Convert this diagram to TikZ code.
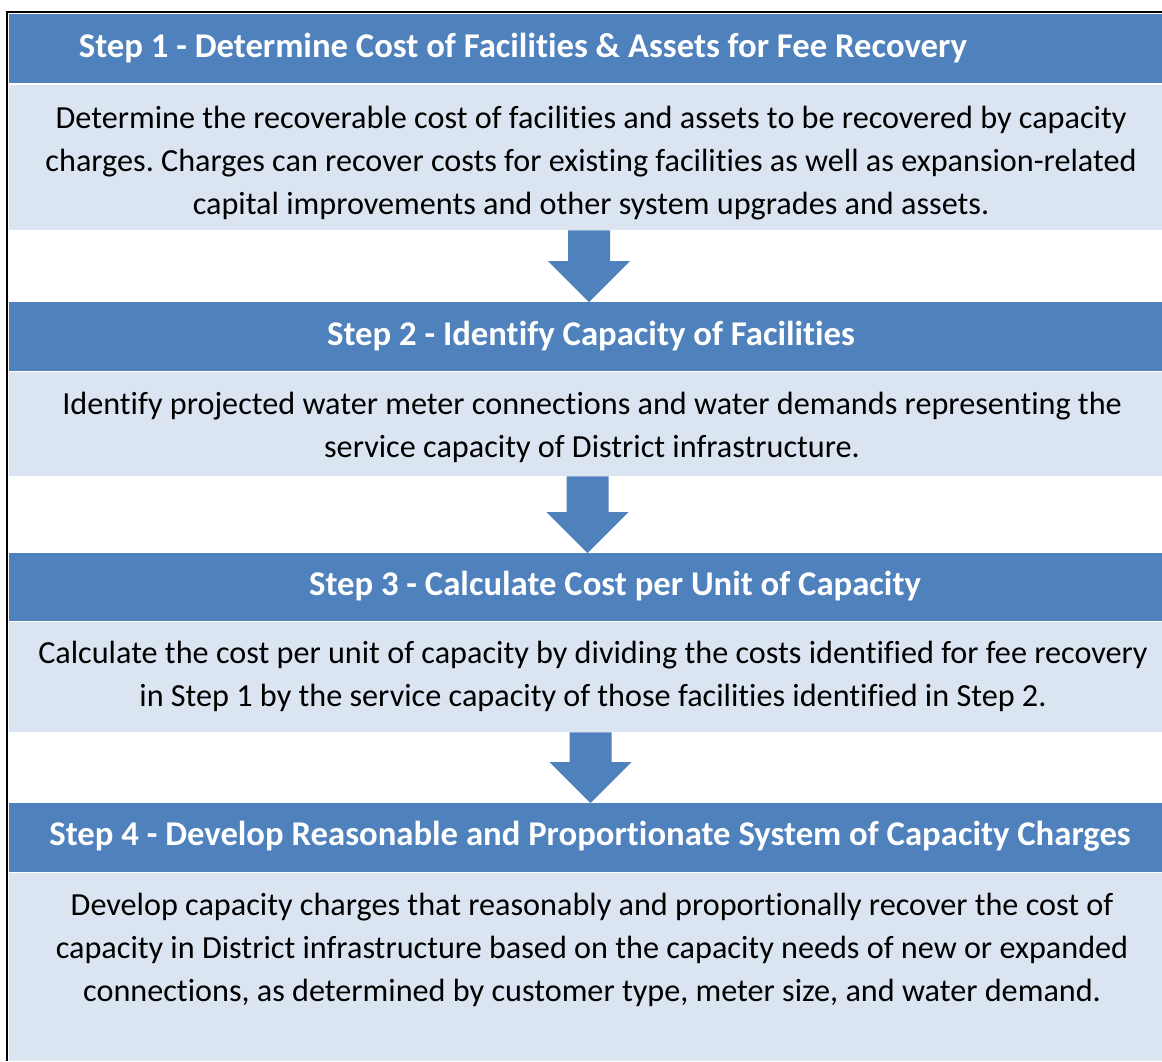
\documentclass[tikz,border=0pt]{standalone}
\usepackage{fontspec}
\setmainfont[Ligatures={NoCommon}]{Carlito}
\usetikzlibrary{calc}
\definecolor{hdrblue}{HTML}{4F81BD}
\definecolor{bodyblue}{HTML}{DBE5F1}
\tikzset{
  hdr/.style={fill=hdrblue, draw=none, anchor=north west, inner sep=0pt, minimum width=1153pt},
  bodybox/.style={fill=bodyblue, draw=none, anchor=north west, inner sep=0pt, minimum width=1153pt},
  hdrtext/.style={text=white, font=\fontsize{34.7}{40}\selectfont\bfseries, inner sep=0pt},
  bodytext/.style={text=black, font=\fontsize{32.2}{43}\selectfont, align=center, inner sep=0pt},
  arr/.style={fill=hdrblue, draw=none},
  frameline/.style={draw=black, line width=2pt}
}
\newcommand\flowarrow[2]{%
  \fill[arr] ($(#1)+(-21,0)$) -- ($(#2)+(-21,-41)$) -- ($(#2)+(-41,-41)$) -- (#2)
    -- ($(#2)+(41,-41)$) -- ($(#2)+(21,-41)$) -- ($(#1)+(21,0)$) -- cycle;}
\begin{document}
\frenchspacing
\begin{tikzpicture}[x=1pt,y=-1pt]
\useasboundingbox (0,0) rectangle (1162,1061);
\fill[white] (0,0) rectangle (1162,1061);
% boxes
\node[hdr, minimum height=69pt] (h1) at (9,14) {};
\node[bodybox, minimum height=145pt] (b1) at (9,85) {};
\node[hdr, minimum height=69pt] (h2) at (9,302) {};
\node[bodybox, minimum height=104pt] (b2) at (9,372) {};
\node[hdr, minimum height=68pt] (h3) at (9,553) {};
\node[bodybox, minimum height=110pt] (b3) at (9,622) {};
\node[hdr, minimum height=69pt] (h4) at (9,803) {};
\node[bodybox, minimum height=188pt] (b4) at (9,873) {};
% frame
\draw[frameline] (7,1061) -- (7,12) -- (1162,12);
% header texts
\node[hdrtext] (h1t) at (523,48) {Step 1 - Determine Cost of Facilities \& Assets for Fee Recovery};
\node[hdrtext] (h2t) at (591,336) {Step 2 - Identify Capacity of Facilities};
\node[hdrtext] (h3t) at (615,586) {Step 3 - Calculate Cost per Unit of Capacity};
\node[hdrtext] (h4t) at (590,836) {Step 4 - Develop Reasonable and Proportionate System of Capacity Charges};
% body texts
\node[bodytext] (b1t) at (591,163) {Determine the recoverable cost of facilities and assets to be recovered by capacity\\charges. Charges can recover costs for existing facilities as well as expansion-related\\capital improvements and other system upgrades and assets.};
\node[bodytext] (b2t) at (592,427.5) {Identify projected water meter connections and water demands representing the\\service capacity of District infrastructure.};
\node[bodytext] (b3t) at (593,676) {Calculate the cost per unit of capacity by dividing the costs identified for fee recovery\\in Step 1 by the service capacity of those facilities identified in Step 2.};
\node[bodytext] (b4t) at (592,949.5) {Develop capacity charges that reasonably and proportionally recover the cost of\\capacity in District infrastructure based on the capacity needs of new or expanded\\connections, as determined by customer type, meter size, and water demand.};
% arrows
\coordinate (a1) at (b1.south -| 589,0);
\coordinate (a1t) at (h2.north -| 589,0);
\coordinate (a2) at (b2.south -| 587.5,0);
\coordinate (a2t) at (h3.north -| 587.5,0);
\coordinate (a3) at (b3.south -| 590.5,0);
\coordinate (a3t) at (h4.north -| 590.5,0);
\flowarrow{a1}{a1t}
\flowarrow{a2}{a2t}
\flowarrow{a3}{a3t}
\end{tikzpicture}
\end{document}
